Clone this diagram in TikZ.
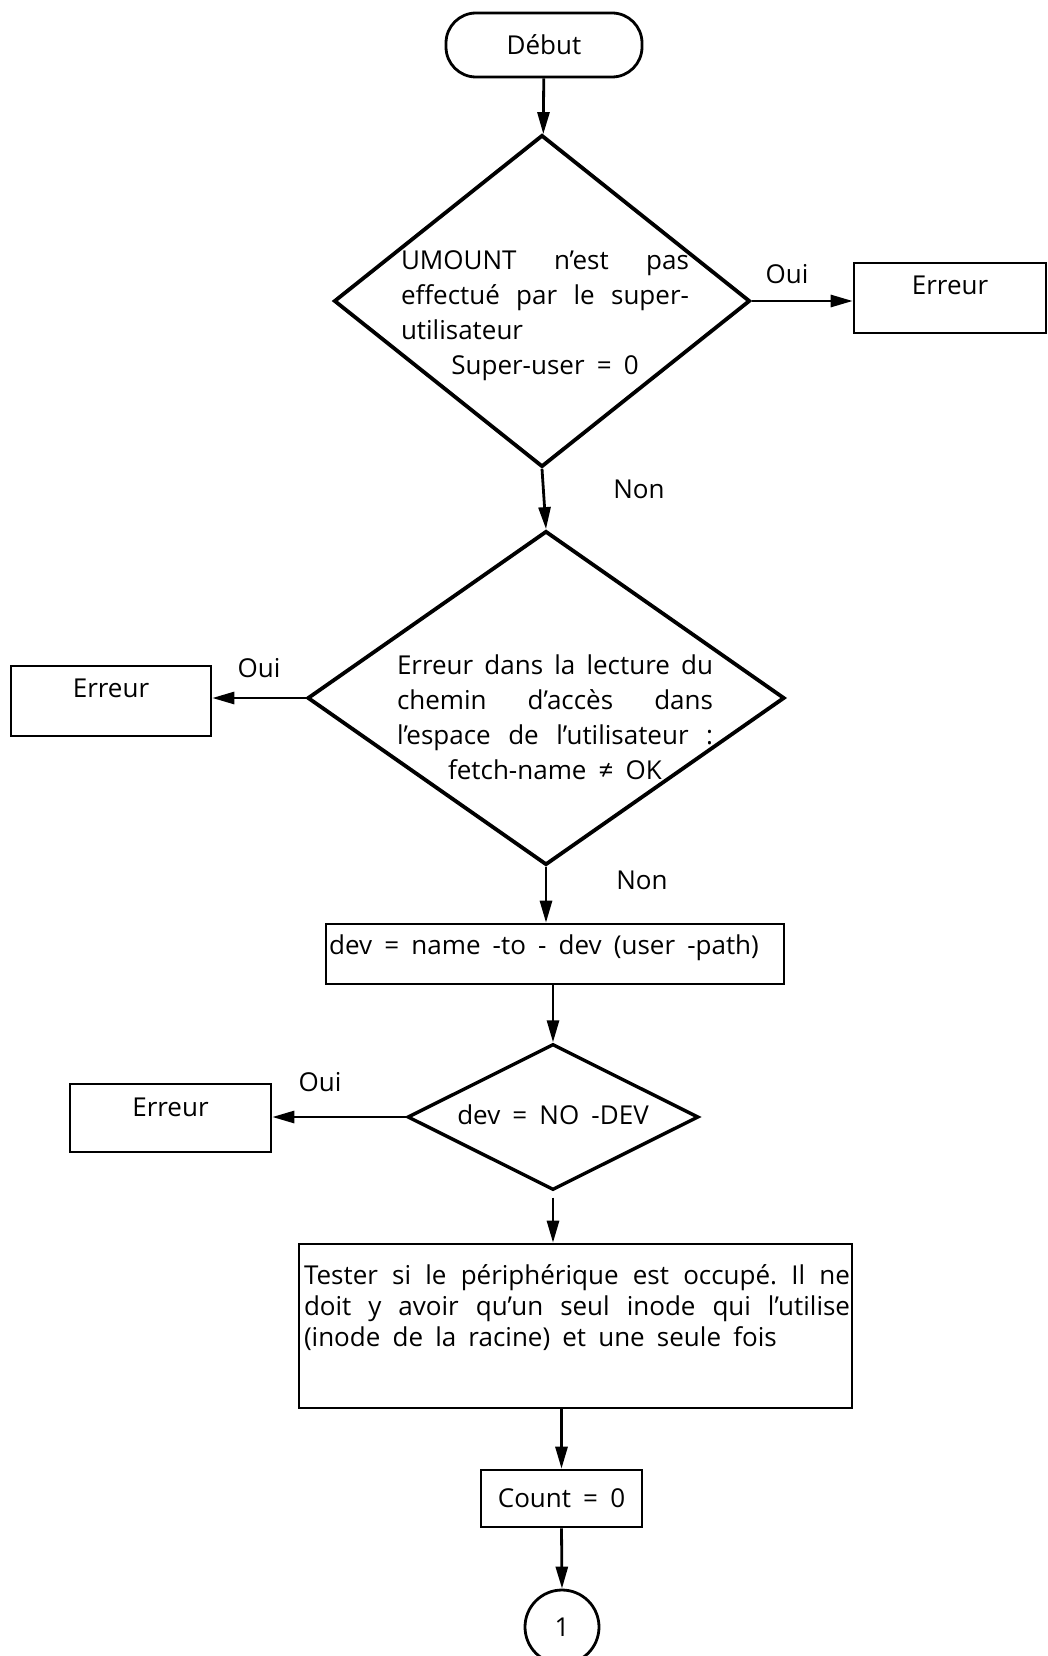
\documentclass[tikz,border=0pt]{standalone}
\usepackage{fontspec}
\setmainfont{Open Sans}[WordSpace=1.8]
\frenchspacing
\usetikzlibrary{shapes.geometric,arrows.meta}
\begin{document}
\begin{tikzpicture}[x=1pt,y=-1pt,
  every node/.style={font=\fontsize{26}{35}\selectfont},
  decision/.style={draw,shape=diamond,line width=3.8pt,inner sep=0pt,line join=miter},
  box/.style={draw,rectangle,line width=2.6pt,inner sep=0pt},
  terminal/.style={draw,rectangle,rounded corners=30pt,line width=2.8pt,minimum width=196pt,minimum height=64pt},
  connector/.style={draw,circle,line width=2.8pt,minimum size=74pt,inner sep=0pt},
  body/.style={align=left,inner sep=0pt},
  lbl/.style={inner sep=0pt},
  arr/.style={line width=2.8pt,-{Triangle[length=22pt,width=12pt]}}
]
\useasboundingbox (0,0) rectangle (1047,1656);

% start
\node[terminal] (debut) at (544,45) {Début};

% first test: super-user
\node[decision,minimum width=416pt,minimum height=332pt] (d1) at (542,301) {};
\node[body] (d1t) at (545,316) {\makebox[288pt][s]{UMOUNT n’est pas}\\
  \makebox[288pt][s]{effectué par le super-}\\
  utilisateur\\
  \makebox[288pt][c]{Super-user = 0}};
\node[box,minimum width=192pt,minimum height=70pt] (e1) at (950,298) {};
\node[lbl] (e1t) at ([yshift=13pt]e1.center) {Erreur};

% second test: path name
\node[decision,minimum width=477pt,minimum height=334pt] (d2) at (546,698) {};
\node[body] (d2t) at (555,717) {\makebox[316pt][s]{Erreur dans la lecture du}\\
  \makebox[316pt][s]{chemin d’accès dans}\\
  \makebox[316pt][s]{l’espace de l’utilisateur :}\\
  \makebox[316pt][c]{fetch-name ≠ OK}};
\node[box,minimum width=200pt,minimum height=70pt] (e2) at (111,701) {};
\node[lbl] (e2t) at ([yshift=13pt]e2.center) {Erreur};

% device lookup
\node[box,minimum width=458pt,minimum height=60pt] (dev) at (555,954) {};
\node[lbl,anchor=west] (devt) at (329,948) {dev = name -to - dev (user -path)};

% third test: no device
\node[decision,minimum width=291pt,minimum height=146pt,line width=3.4pt] (d3) at (553,1117) {};
\node[lbl] (d3t) at (553,1115) {dev = NO -DEV};
\node[box,minimum width=201pt,minimum height=68pt] (e3) at (170.5,1118) {};
\node[lbl] (e3t) at ([yshift=11pt]e3.center) {Erreur};

% busy test
\node[box,minimum width=553pt,minimum height=164pt] (busy) at (575.5,1326) {};
\node[body,font=\fontsize{26}{31}\selectfont] (busyt) at (577,1307.5) {%
  \makebox[546pt][s]{Tester si le périphérique est occupé. Il ne}\\
  \makebox[546pt][s]{doit y avoir qu’un seul inode qui l’utilise}\\
  (inode de la racine) et une seule fois};

% counter and continuation
\node[box,minimum width=161pt,minimum height=57pt] (cnt) at (561.5,1498.5) {Count = 0};
\node[connector] (c1) at (562,1627) {1};

% branch labels
\node[lbl] (o1) at (787,274) {Oui};
\node[lbl] (n1) at (639,489) {Non};
\node[lbl] (o2) at (259,668) {Oui};
\node[lbl] (n2) at (642,880) {Non};
\node[lbl] (o3) at (320,1082) {Oui};

% flow
\draw[arr] (debut) -- (d1);
\draw[arr] (d1.south) -- (d2.north);
\draw[arr] (d2.south) -- (d2.south |- dev.north);
\draw[arr] (d3.north |- dev.south) -- (d3.north);
\draw[arr] ([yshift=-6pt]d3.south) -- (d3.south |- busy.north);
\draw[arr] (cnt.north |- busy.south) -- (cnt.north);
\draw[arr] (cnt.south) -- (c1.north);
\draw[arr] (d1.east) -- (d1.east -| e1.west);
\draw[arr] (d2.west) -- (d2.west -| e2.east);
\draw[arr] (d3.west) -- (d3.west -| e3.east);
\end{tikzpicture}
\end{document}
